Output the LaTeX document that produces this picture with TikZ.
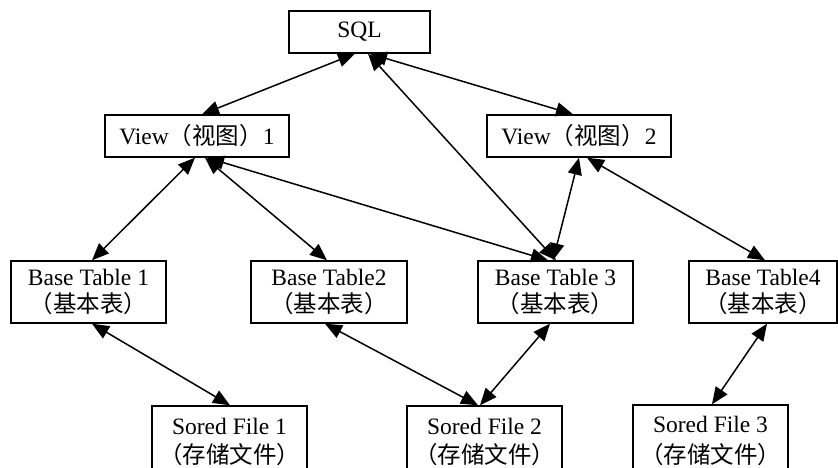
\documentclass[tikz,border=0pt]{standalone}
\usepackage{fontspec}
\setmainfont{Liberation Serif}
\newfontfamily\cjk{Noto Sans CJK SC}
\usetikzlibrary{arrows.meta}
\begin{document}
\begin{tikzpicture}[x=1pt,y=-1pt,
  box/.style={draw, line width=1.4pt, inner sep=0pt, align=center,
    font=\fontsize{23.5}{27}\selectfont},
  onebox/.style={box, minimum width=184pt, minimum height=42pt},
  tablebox/.style={box, minimum width=155pt, minimum height=62pt},
  filebox/.style={box, minimum width=155pt, minimum height=71pt,
    font=\fontsize{23.5}{29}\selectfont},
  link/.style={{Triangle[length=17pt,width=14pt]}-{Triangle[length=17pt,width=14pt]},
    line width=1.5pt}]
\useasboundingbox (0,0) rectangle (838,468);
\clip (0,0) rectangle (838,468);

% top level
\node[box, minimum width=141pt, minimum height=42pt] (sql) at (359.5,32) {SQL};

% views
\node[onebox] (v1) at (197,136) {View{\cjk （视图）}1};
\node[onebox] (v2) at (579,136) {View{\cjk （视图）}2};

% base tables
\node[tablebox] (t1) at (88.5,292) {Base Table 1\\{\cjk （基本表）}};
\node[tablebox, minimum width=156pt] (t2) at (329,292) {Base Table2\\{\cjk （基本表）}};
\node[tablebox] (t3) at (555.5,292) {Base Table 3\\{\cjk （基本表）}};
\node[tablebox, minimum width=148pt] (t4) at (763,292) {Base Table4\\{\cjk （基本表）}};

% stored files
\node[filebox] (f1) at (229.5,441.5) {Sored File 1\\{\cjk （存储文件）}};
\node[filebox] (f2) at (484.5,441.5) {Sored File 2\\{\cjk （存储文件）}};
\node[filebox] (f3) at (710.5,440.5) {Sored File 3\\[2pt]{\cjk （存储文件）}};

% connectors
\draw[link] ([xshift=-4.5pt]sql.south) -- ([xshift=5pt]v1.north);
\draw[link] ([xshift=8.5pt]sql.south) -- ([xshift=0.5pt]t3.north);
\draw[link] ([xshift=10.5pt]sql.south) -- ([xshift=-6pt]v2.north);

\draw[link] ([xshift=-2pt]v1.south) -- ([xshift=3.5pt]t1.north);
\draw[link] ([xshift=8pt]v1.south) -- ([xshift=-2pt]t2.north);
\draw[link] ([xshift=10pt]v1.south) -- ([xshift=-7.5pt]t3.north);

\draw[link] (v2.south) -- ([xshift=-2.5pt]t3.north);
\draw[link] ([xshift=8pt]v2.south) -- ([xshift=2pt]t4.north);

\draw[link] ([xshift=3.5pt]t1.south) -- ([xshift=0.5pt]f1.north);
\draw[link] ([xshift=-4pt]t2.south) -- ([xshift=-6.5pt]f2.north);
\draw[link] ([xshift=-5.5pt]t3.south) -- ([xshift=-4.5pt]f2.north);
\draw[link] ([xshift=4pt]t4.south) -- ([xshift=1.5pt]f3.north);
\end{tikzpicture}
\end{document}
